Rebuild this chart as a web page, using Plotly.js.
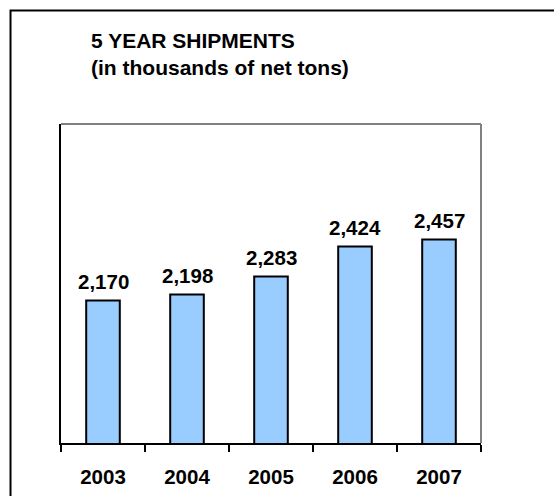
<!DOCTYPE html>
<html>
<head>
<meta charset="utf-8">
<script src="https://cdn.plot.ly/plotly-3.0.1.min.js"></script>
<style>
html,body{margin:0;padding:0;background:#fff;}
#chart{width:554px;height:496px;}
</style>
</head>
<body>
<div id="chart"></div>
<script>
var years = ["2003", "2004", "2005", "2006", "2007"];
var shipments = [2170, 2198, 2283, 2424, 2457];
var valueLabels = ["2,170", "2,198", "2,283", "2,424", "2,457"];
var titleLines = ["5 YEAR SHIPMENTS", "(in thousands of net tons)"];

var FONT = "Liberation Sans, Arial, sans-serif";

var trace = {
  type: "bar",
  x: years,
  y: shipments,
  marker: {color: "#99CCFF", line: {color: "#000000", width: 2}},
  hoverinfo: "skip"
};

var annotations = [];
for (var i = 0; i < years.length; i++) {
  annotations.push({
    x: i, y: shipments[i], xref: "x", yref: "y",
    text: valueLabels[i], showarrow: false,
    xanchor: "center", yanchor: "middle", yshift: 19,
    font: {family: FONT, size: 20.5, color: "#000", weight: "bold"}
  });
}
var titleY = [1.2621, 1.1762];
for (var j = 0; j < titleLines.length; j++) {
  annotations.push({
    x: 0.067, y: titleY[j], xref: "paper", yref: "paper",
    text: titleLines[j], showarrow: false,
    xanchor: "left", yanchor: "middle",
    font: {family: FONT, size: 21, color: "#000", weight: "bold"}
  });
}

var layout = {
  width: 554, height: 496,
  margin: {l: 61, r: 73, t: 124, b: 53, pad: 0},
  paper_bgcolor: "#ffffff", plot_bgcolor: "#ffffff",
  showlegend: false,
  bargap: 0.6,
  xaxis: {
    type: "category",
    categoryorder: "array", categoryarray: years,
    range: [-0.5, years.length - 0.5], autorange: false,
    showline: true, linecolor: "#000", linewidth: 2,
    ticks: "outside", tickson: "boundaries", ticklen: 7, tickwidth: 2, tickcolor: "#000",
    ticklabelstandoff: 14,
    showgrid: false, zeroline: false,
    tickfont: {family: FONT, size: 20.5, color: "#000", weight: "bold"},
    fixedrange: true
  },
  yaxis: {
    range: [1500, 3000], autorange: false,
    showline: true, linecolor: "#000", linewidth: 2,
    showticklabels: false, ticks: "", showgrid: false, zeroline: false,
    fixedrange: true
  },
  annotations: annotations,
  shapes: [
    {type: "line", xref: "paper", yref: "paper", x0: 0, x1: 1, y0: 1, y1: 1,
     line: {color: "#808080", width: 2}},
    {type: "line", xref: "paper", yref: "paper", x0: 1, x1: 1, y0: 0, y1: 1,
     line: {color: "#808080", width: 2}},
    {type: "rect", xref: "paper", yref: "paper", x0: -0.1202, x1: 1.25, y0: -0.25, y1: 1.3558,
     line: {color: "#000", width: 2}, fillcolor: "rgba(0,0,0,0)"}
  ]
};

Plotly.newPlot("chart", [trace], layout, {displayModeBar: false, staticPlot: true});
</script>
</body>
</html>
